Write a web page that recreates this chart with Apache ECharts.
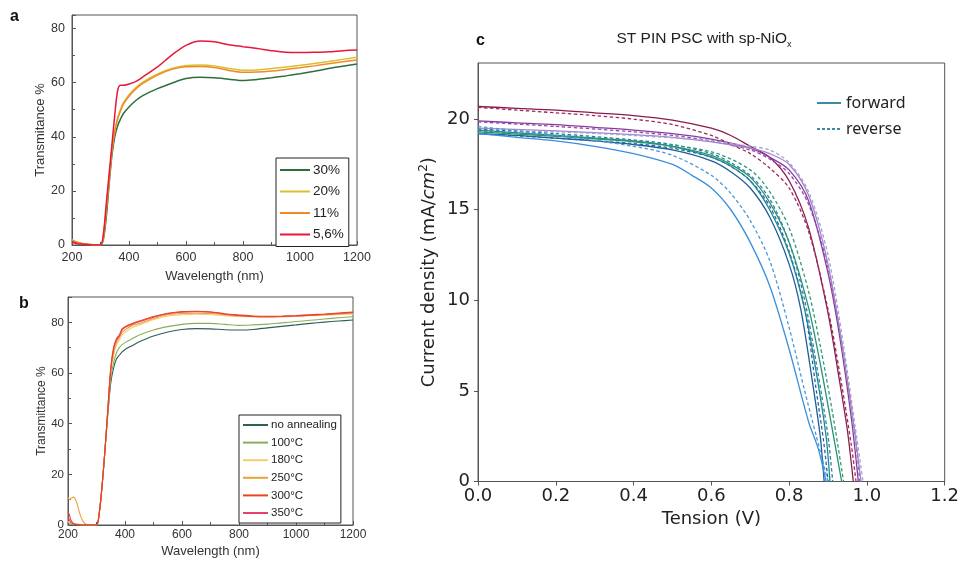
<!DOCTYPE html>
<html><head><meta charset="utf-8">
<script src="https://cdn.jsdelivr.net/npm/echarts@6/dist/echarts.min.js"></script>
<style>html,body{margin:0;padding:0;background:#fff}#c{width:962px;height:562px}</style>
</head><body><div id="c"></div>
<script>
// ---------- Panel a: transmittance vs wavelength (concentration) ----------
const wlA = [200,220,240,260,280,300,310,320,330,340,350,360,370,380,400,425,450,500,550,600,650,700,750,800,850,900,950,1000,1050,1100,1150,1200];
const a30 = [1.5,0.8,0.4,0.2,0.1,0,2,10,22,33,40,44,46.5,48.5,51,53.5,55.3,57.8,59.8,61.5,62,61.8,61.3,60.8,61.2,61.8,62.5,63.3,64.2,65.2,66.1,66.9];
const a20 = [2,1,0.5,0.2,0.1,0,3,13,24,35,42,47,50,52.5,55.5,58.3,60.3,63.2,65.2,66.3,66.5,66.2,65.2,64.6,64.7,65.2,65.8,66.4,67.1,67.8,68.6,69.4];
const a11 = [1.8,0.9,0.4,0.2,0.1,0,3,13,24,35,42,46.5,49.5,52,55,57.8,59.8,62.8,64.9,65.9,66,65.6,64.5,63.8,63.9,64.3,64.9,65.5,66.2,67,67.7,68.4];
const a56 = [1,0.5,0.3,0.1,0,0,4,15,26,37,48,57,59,59,59.5,60.5,62.2,65.8,70.2,73.8,75.4,75.1,74,73.3,72.6,71.8,71.2,71.1,71.2,71.4,71.8,72.1];
const namesA = ['30%','20%','11%','5,6%'];

// ---------- Panel b: transmittance vs wavelength (annealing) ----------
const wlB = [200,205,210,220,230,240,250,260,280,300,310,320,330,340,350,360,370,380,390,400,425,450,500,550,600,650,700,750,800,850,900,950,1000,1050,1100,1150,1200];
const bNo  = [1,0.7,0.5,0.3,0.2,0.1,0,0,0,0,5,16,30,44,56,62,65.5,67,68.3,69.3,70.8,72.3,74.6,76.2,77.2,77.5,77.4,77.1,77,77.2,77.8,78.4,79,79.6,80.1,80.5,80.9];
const b100 = [1,0.7,0.5,0.3,0.2,0.1,0,0,0,0,5,16,30,45,58,64,68,70,71.2,72,73.5,75,77,78.3,79.2,79.6,79.6,79.2,78.8,79,79.3,79.8,80.3,80.8,81.3,81.8,82.2];
const b180 = [1.5,1,0.7,0.4,0.2,0.1,0,0,0,0,5,16,30,46,60,67,71,73,75,76,78,79,81,82.5,83,83.2,83,82.6,82.3,82.1,82,82.1,82.3,82.6,82.8,83.1,83.3];
const b250 = [11,10,10.5,11,9,5,2,0.5,0,0,5,16,30,46,61,68,72,74,76,77,78.8,79.5,81.5,83,83.5,83.6,83.5,83,82.5,82.3,82.2,82.3,82.5,82.8,83,83.3,83.6];
const b300 = [5,4,2,0.5,0.3,0.2,0,0,0,0,5,16,30,46,62,70,73.5,75,77.5,78.3,79.5,80.5,82.3,83.6,84.3,84.4,84.2,83.4,82.9,82.5,82.4,82.5,82.7,83,83.3,83.7,84.1];
const b350 = [3,2,1,0.4,0.2,0.1,0,0,0,0,5,16,30,46,61.5,69.5,73,74.5,77,78,79.2,80.2,82,83.4,84,84.2,84,83.2,82.7,82.3,82.2,82.3,82.5,82.8,83.1,83.5,83.9];
const namesB = ['no annealing','100°C','180°C','250°C','300°C','350°C'];

// ---------- Panel c: J-V curves [V, J] ----------
const jvMaroonF = [[0,20.7],[0.1,20.6],[0.2,20.5],[0.3,20.35],[0.4,20.2],[0.5,19.95],[0.6,19.5],[0.65,19.1],[0.7,18.5],[0.75,17.9],[0.8,16.6],[0.85,14.0],[0.9,9.3],[0.93,5.5],[0.95,2.8],[0.965,0]];
const jvMaroonR = [[0,20.65],[0.1,20.5],[0.2,20.35],[0.3,20.2],[0.4,20.0],[0.5,19.7],[0.6,19.1],[0.65,18.6],[0.7,18.1],[0.75,17.3],[0.8,16.2],[0.85,13.8],[0.9,9.5],[0.93,6],[0.96,2],[0.972,0]];
const jvPurpleF = [[0,19.9],[0.1,19.8],[0.2,19.7],[0.3,19.55],[0.4,19.4],[0.5,19.2],[0.6,18.9],[0.7,18.4],[0.75,17.9],[0.8,17.2],[0.85,15.5],[0.9,11.5],[0.93,8],[0.96,3.5],[0.978,0]];
const jvPurpleR = [[0,19.85],[0.2,19.6],[0.4,19.3],[0.5,19.1],[0.6,18.8],[0.7,18.3],[0.75,17.8],[0.8,17.0],[0.85,15.3],[0.9,11.8],[0.94,7],[0.97,2.5],[0.982,0]];
const jvLilacF  = [[0,19.5],[0.2,19.35],[0.4,19.15],[0.5,19.0],[0.6,18.75],[0.7,18.4],[0.75,18.1],[0.8,17.5],[0.85,15.8],[0.9,12],[0.94,7],[0.97,2.5],[0.985,0]];
const jvLilacR  = [[0,19.4],[0.2,19.3],[0.4,19.1],[0.6,18.8],[0.7,18.5],[0.75,18.3],[0.8,17.6],[0.85,16.0],[0.9,12.5],[0.94,7.5],[0.97,3],[0.99,0]];
const jvNavyF   = [[0,19.2],[0.1,19.1],[0.2,18.95],[0.3,18.8],[0.4,18.6],[0.5,18.3],[0.6,17.7],[0.65,17.1],[0.7,16.2],[0.75,14.6],[0.8,12.0],[0.83,9.5],[0.86,5.5],[0.88,2.5],[0.89,0]];
const jvNavyR   = [[0,19.2],[0.2,18.95],[0.4,18.65],[0.5,18.4],[0.6,17.9],[0.65,17.4],[0.7,16.6],[0.75,15.2],[0.8,12.7],[0.84,9.5],[0.87,5],[0.89,2],[0.9,0]];
const jvTealF   = [[0,19.4],[0.2,19.1],[0.4,18.8],[0.5,18.5],[0.6,17.9],[0.65,17.4],[0.7,16.6],[0.75,15.0],[0.8,12.6],[0.84,9.5],[0.87,6],[0.895,2.5],[0.905,0]];
const jvTealR   = [[0,19.45],[0.2,19.2],[0.4,18.85],[0.5,18.6],[0.6,18.1],[0.65,17.6],[0.7,16.9],[0.75,15.6],[0.8,13.2],[0.84,10],[0.87,6.5],[0.9,2.5],[0.912,0]];
const jvGreenF  = [[0,19.3],[0.2,19.05],[0.4,18.75],[0.5,18.5],[0.6,18.0],[0.65,17.5],[0.7,16.8],[0.75,15.4],[0.8,13.2],[0.85,9.6],[0.88,6.5],[0.91,3],[0.935,0]];
const jvGreenR  = [[0,19.35],[0.2,19.1],[0.4,18.8],[0.6,18.2],[0.7,17.2],[0.75,16.0],[0.8,14.0],[0.85,10.5],[0.88,7.5],[0.91,4],[0.94,0]];
const jvBlueF   = [[0,19.2],[0.1,19.0],[0.2,18.8],[0.3,18.5],[0.4,18.1],[0.5,17.5],[0.55,16.9],[0.6,16.2],[0.65,15.0],[0.7,13.2],[0.75,10.8],[0.8,7.3],[0.85,3.3],[0.875,1.8],[0.895,0]];
const jvBlueR   = [[0,19.6],[0.2,19.1],[0.4,18.5],[0.5,18.0],[0.6,16.9],[0.65,15.9],[0.7,14.4],[0.75,12.2],[0.8,8.5],[0.84,5],[0.87,2.5],[0.9,0]];
const jvCurves = [
  ['mF', jvMaroonF,'#8b1a4e','solid'], ['mR', jvMaroonR,'#9c2a5a','dashed'],
  ['pF', jvPurpleF,'#8a3a9e','solid'], ['pR', jvPurpleR,'#9448ac','dashed'],
  ['lF', jvLilacF,'#a286cc','solid'], ['lR', jvLilacR,'#a3a6cc','dashed'],
  ['nF', jvNavyF,'#1f5c9c','solid'], ['nR', jvNavyR,'#22649e','dashed'],
  ['tF', jvTealF,'#1f8796','solid'], ['tR', jvTealR,'#2c7fa8','dashed'],
  ['gF', jvGreenF,'#2a9270','solid'], ['gR', jvGreenR,'#2e9a78','dashed'],
  ['bF', jvBlueF,'#3a8ee0','solid'], ['bR', jvBlueR,'#4a9ad8','dashed']
];

const colA = ['#2e6e3c','#d8c030','#f08a28','#e8183c'];
const colB = ['#2f5f55','#8aae5c','#f2d068','#e8a23a','#e94420','#e8406e'];
const sansA = 'Liberation Sans';
const sansC = 'DejaVu Sans';
const dash = [3.5, 2.5];

function pairs(xs, ys){ return xs.map((x,i)=>[x, ys[i]]); }

const series = [];
const dataA = [a30,a20,a11,a56];
dataA.forEach((d,i)=>series.push({name:namesA[i], type:'line', xAxisIndex:0, yAxisIndex:0, data:pairs(wlA,d),
  symbol:'none', smooth:0.3, lineStyle:{width:1.5, color:colA[i]}, itemStyle:{color:colA[i]}}));
const dataB = [bNo,b100,b180,b250,b300,b350];
const orderB = [0,1,2,3,5,4];
orderB.forEach(i=>series.push({name:namesB[i], type:'line', xAxisIndex:1, yAxisIndex:1, data:pairs(wlB,dataB[i]),
  symbol:'none', smooth:0.3, lineStyle:{width:1.1, color:colB[i]}, itemStyle:{color:colB[i]}}));
jvCurves.forEach(c=>series.push({name:c[0], type:'line', xAxisIndex:2, yAxisIndex:2, data:c[1],
  symbol:'none', smooth:0.3, lineStyle:{width:1.3, color:c[2], type:c[3]==='dashed'?dash:'solid'}, itemStyle:{color:c[2]}}));
series.push({name:'forward', type:'line', xAxisIndex:2, yAxisIndex:2, data:[], symbol:'none', lineStyle:{width:1.8,color:'#3d8aa8'}, itemStyle:{color:'#3d8aa8'}});
series.push({name:'reverse', type:'line', xAxisIndex:2, yAxisIndex:2, data:[], symbol:'none', lineStyle:{width:1.3,color:'#3d8aa8',type:[3,2]}, itemStyle:{color:'#3d8aa8'}});

const axisLineAB = {show:true, lineStyle:{color:'#555', width:1}};
function xAB(grid, fs, margin, gap){
  return {type:'value', gridIndex:grid, min:200, max:1200, interval:200,
    name:'Wavelength (nm)', nameLocation:'middle', nameGap:gap,
    nameTextStyle:{fontFamily:sansA, fontSize:13, color:'#333'},
    axisLine:axisLineAB, axisTick:{inside:true, length:4, lineStyle:{color:'#555'}},
    minorTick:{show:true, splitNumber:2, length:3, lineStyle:{color:'#555'}},
    axisLabel:{fontFamily:sansA, fontSize:fs, color:'#333', margin:margin, formatter:v=>String(v)}, splitLine:{show:false}};
}
function yAB(grid, max, name, fs, nfs, margin, gap){
  return {type:'value', gridIndex:grid, min:0, max:max, interval:20,
    name:name, nameLocation:'middle', nameGap:gap,
    nameTextStyle:{fontFamily:sansA, fontSize:nfs, color:'#333'},
    axisLine:axisLineAB, axisTick:{inside:true, length:4, lineStyle:{color:'#555'}},
    minorTick:{show:true, splitNumber:2, length:3, lineStyle:{color:'#555'}},
    axisLabel:{fontFamily:sansA, fontSize:fs, color:'#333', margin:margin, showMaxLabel:false}, splitLine:{show:false}};
}
const noSymbol = {opacity:0, borderWidth:0};

const option = {
  animation:false,
  backgroundColor:'#fff',
  grid:[
    {left:72, top:15, width:285, height:230, show:true, borderColor:'#555', borderWidth:1, backgroundColor:'transparent'},
    {left:68, top:297, width:285, height:228, show:true, borderColor:'#555', borderWidth:1, backgroundColor:'transparent'},
    {left:478, top:63, width:469, height:418.5, show:true, borderColor:'#555', borderWidth:1, backgroundColor:'transparent'}
  ],
  xAxis:[
    xAB(0, 12.5, 6, 25),
    xAB(1, 12, 4, 20),
    {type:'value', gridIndex:2, min:0, max:1.2, interval:0.2,
      name:'Tension (V)', nameLocation:'middle', nameGap:28,
      nameTextStyle:{fontFamily:sansC, fontSize:18, color:'#222'},
      axisLine:{show:true, lineStyle:{color:'#555'}}, axisTick:{show:true, length:4, lineStyle:{color:'#555'}},
      axisLabel:{fontFamily:sansC, fontSize:18, color:'#222', margin:6, formatter:v=>v.toFixed(1)}, splitLine:{show:false}}
  ],
  yAxis:[
    yAB(0, 85, 'Transmitance %', 12.5, 13, 7, 18),
    yAB(1, 90, 'Transmittance %', 11.5, 12, 4, 19),
    {type:'value', gridIndex:2, min:0, max:23.1, interval:5,
      name:'{n|Current density (mA/}{i|cm}{s|2}{n|)}', nameLocation:'middle', nameGap:38,
      nameTextStyle:{fontFamily:sansC, fontSize:18, color:'#222',
        rich:{n:{fontFamily:sansC, fontSize:18, color:'#222', lineHeight:22},
              i:{fontFamily:sansC, fontSize:18, fontStyle:'italic', color:'#222', lineHeight:22},
              s:{fontFamily:sansC, fontSize:12, color:'#222', verticalAlign:'top', lineHeight:22}}},
      axisLine:{show:true, lineStyle:{color:'#555'}}, axisTick:{show:true, length:4, lineStyle:{color:'#555'}},
      axisLabel:{fontFamily:sansC, fontSize:18, color:'#222', margin:8, showMaxLabel:false}, splitLine:{show:false}}
  ],
  legend:[
    {data:namesA, left:276, top:158, orient:'vertical', itemWidth:30, itemHeight:10, itemGap:7.5,
      padding:[5,5,5,3], borderColor:'#222', borderWidth:1, backgroundColor:'#fff', itemStyle:noSymbol,
      textStyle:{fontFamily:sansA, fontSize:13.5, color:'#222', padding:[0,0,0,-2]}},
    {data:namesB, left:239, top:415, orient:'vertical', itemWidth:25, itemHeight:9, itemGap:5.6,
      padding:[4,4,4,3], borderColor:'#222', borderWidth:1, backgroundColor:'#fff', itemStyle:noSymbol,
      textStyle:{fontFamily:sansA, fontSize:11.5, color:'#222', padding:[0,0,0,-2]}},
    {data:['forward','reverse'], left:811, top:90, orient:'vertical', itemWidth:24, itemHeight:12, itemGap:10,
      itemStyle:noSymbol,
      textStyle:{fontFamily:'Noto Sans', fontSize:16, color:'#222'}}
  ],
  graphic:[
    {type:'text', left:10, top:9, style:{text:'a', font:'bold 16px Liberation Sans', fill:'#111'}},
    {type:'text', left:19, top:296, style:{text:'b', font:'bold 16px Liberation Sans', fill:'#111'}},
    {type:'text', left:476, top:33, style:{text:'c', font:'bold 16px Liberation Sans', fill:'#111'}},
    {type:'text', x:704, y:39, style:{text:'{m|ST PIN PSC with sp-NiO}{s|x}', align:'center', verticalAlign:'middle',
      rich:{m:{fontFamily:sansA, fontSize:15.5, fill:'#222', lineHeight:20},
            s:{fontFamily:sansA, fontSize:9, fill:'#222', verticalAlign:'bottom', lineHeight:13}}}}
  ],
  series:series
};
const chart = echarts.init(document.getElementById('c'), null, {renderer:'canvas'});
chart.setOption(option);
</script></body></html>
